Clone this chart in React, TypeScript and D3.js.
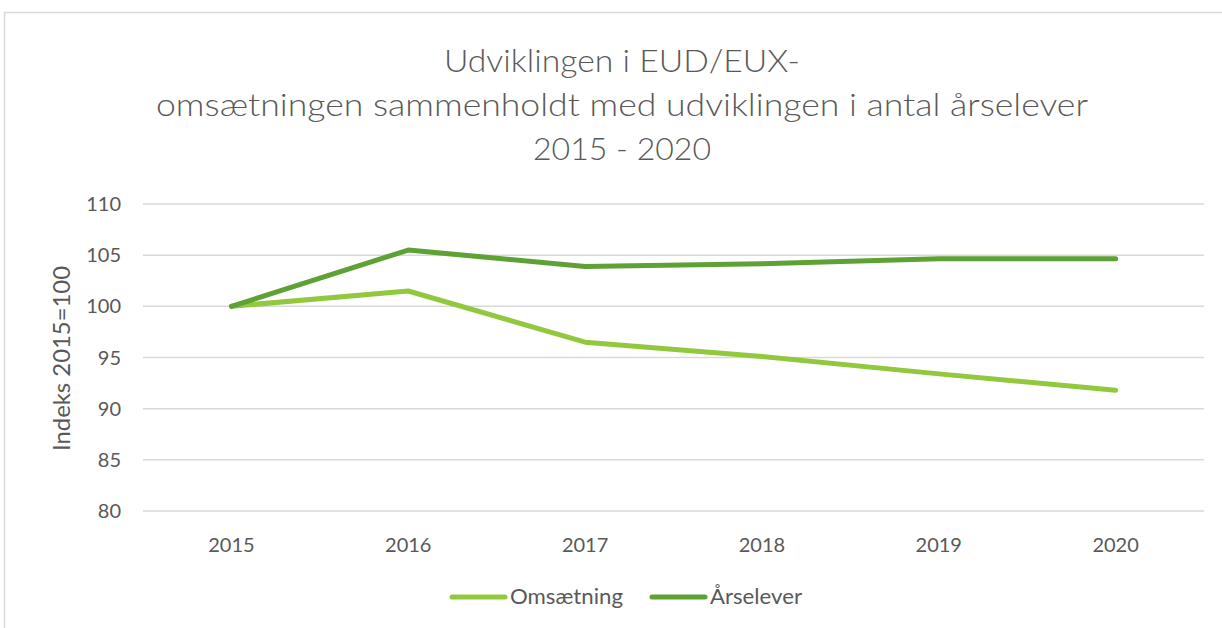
import { useEffect, useRef } from 'react';
import * as d3 from 'd3';

const years = ['2015', '2016', '2017', '2018', '2019', '2020'];
const omsaetning = [100, 101.5, 96.5, 95.1, 93.4, 91.8];
const aarselever = [100, 105.5, 103.9, 104.15, 104.65, 104.65];
const yTicks = [80, 85, 90, 95, 100, 105, 110];
const titleLines = [
  'Udviklingen i EUD/EUX-',
  'omsætningen sammenholdt med udviklingen i antal årselever',
  '2015 - 2020',
];

const W = 1222;
const H = 628;
const FONT = 'Lato, "Open Sans", sans-serif';
const TEXT = '#595959';
const LIGHT = '#92C83E';
const DARK = '#5EA135';

const App = () => {
  const svgRef = useRef<SVGSVGElement | null>(null);

  useEffect(() => {
    if (!svgRef.current) return;
    const svg = d3.select(svgRef.current);
    svg.selectAll('*').remove();

    const margin = { top: 204, right: 18, bottom: 117, left: 143 };
    const innerW = W - margin.left - margin.right;
    const innerH = H - margin.top - margin.bottom;

    // chart frame
    svg.append('path')
      .attr('d', `M4.5,${H} L4.5,12.5 L${W},12.5`)
      .attr('fill', 'none')
      .attr('stroke', '#d9d9d9')
      .attr('stroke-width', 1.5);

    // title
    const titleY = [72, 116, 160];
    const titleW = [356, 932, 178];
    titleLines.forEach((t, i) => {
      svg.append('text')
        .attr('x', 622)
        .attr('y', titleY[i])
        .attr('text-anchor', 'middle')
        .attr('font-family', FONT)
        .attr('font-weight', 300)
        .attr('font-size', 32)
        .attr('fill', TEXT)
        .attr('textLength', titleW[i])
        .attr('lengthAdjust', 'spacingAndGlyphs')
        .text(t);
    });

    const x = d3.scaleBand().domain(years).range([0, innerW]);
    const y = d3.scaleLinear().domain([80, 110]).range([innerH, 0]);

    const g = svg.append('g').attr('transform', `translate(${margin.left},${margin.top})`);

    // gridlines
    g.selectAll('line.grid')
      .data(yTicks)
      .enter()
      .append('line')
      .attr('x1', 0)
      .attr('x2', innerW)
      .attr('y1', d => y(d))
      .attr('y2', d => y(d))
      .attr('stroke', '#d9d9d9')
      .attr('stroke-width', 1.5);

    // y tick labels
    g.selectAll('text.ytick')
      .data(yTicks)
      .enter()
      .append('text')
      .attr('x', -22)
      .attr('y', d => y(d))
      .attr('dy', '0.35em')
      .attr('text-anchor', 'end')
      .attr('font-family', FONT)
      .attr('font-size', 20)
      .attr('fill', TEXT)
      .text(d => d);

    // x tick labels
    g.selectAll('text.xtick')
      .data(years)
      .enter()
      .append('text')
      .attr('x', d => (x(d) || 0) + x.bandwidth() / 2)
      .attr('y', innerH + 41)
      .attr('text-anchor', 'middle')
      .attr('font-family', FONT)
      .attr('font-size', 20)
      .attr('fill', TEXT)
      .text(d => d);

    // y axis title
    svg.append('text')
      .attr('transform', `translate(70,${margin.top + y(94.9)}) rotate(-90)`)
      .attr('text-anchor', 'middle')
      .attr('font-family', FONT)
      .attr('font-size', 24)
      .attr('fill', TEXT)
      .attr('textLength', 185)
      .attr('lengthAdjust', 'spacingAndGlyphs')
      .text('Indeks 2015=100');

    const line = d3.line<number>()
      .x((_, i) => (x(years[i]) || 0) + x.bandwidth() / 2)
      .y(d => y(d));

    const series = [
      { name: 'Omsætning', values: omsaetning, color: LIGHT },
      { name: 'Årselever', values: aarselever, color: DARK },
    ];

    series.forEach(s => {
      g.append('path')
        .datum(s.values)
        .attr('fill', 'none')
        .attr('stroke', s.color)
        .attr('stroke-width', 5)
        .attr('stroke-linecap', 'round')
        .attr('stroke-linejoin', 'round')
        .attr('d', line);
    });

    // legend
    const legendX = [450, 650];
    const legendW = [113, 92];
    series.forEach((s, i) => {
      const lg = svg.append('g').attr('transform', `translate(${legendX[i]},597)`);
      lg.append('line')
        .attr('x1', 2)
        .attr('x2', 55)
        .attr('stroke', s.color)
        .attr('stroke-width', 5)
        .attr('stroke-linecap', 'round');
      lg.append('text')
        .attr('x', 60)
        .attr('dy', '0.35em')
        .attr('font-family', FONT)
        .attr('font-size', 21)
        .attr('fill', TEXT)
        .attr('textLength', legendW[i])
        .attr('lengthAdjust', 'spacingAndGlyphs')
        .text(s.name);
    });
  }, []);

  return <svg ref={svgRef} width={W} height={H} style={{ display: 'block', position: 'absolute', left: 0, top: 0, background: '#fff' }} />;
};

export default App;
